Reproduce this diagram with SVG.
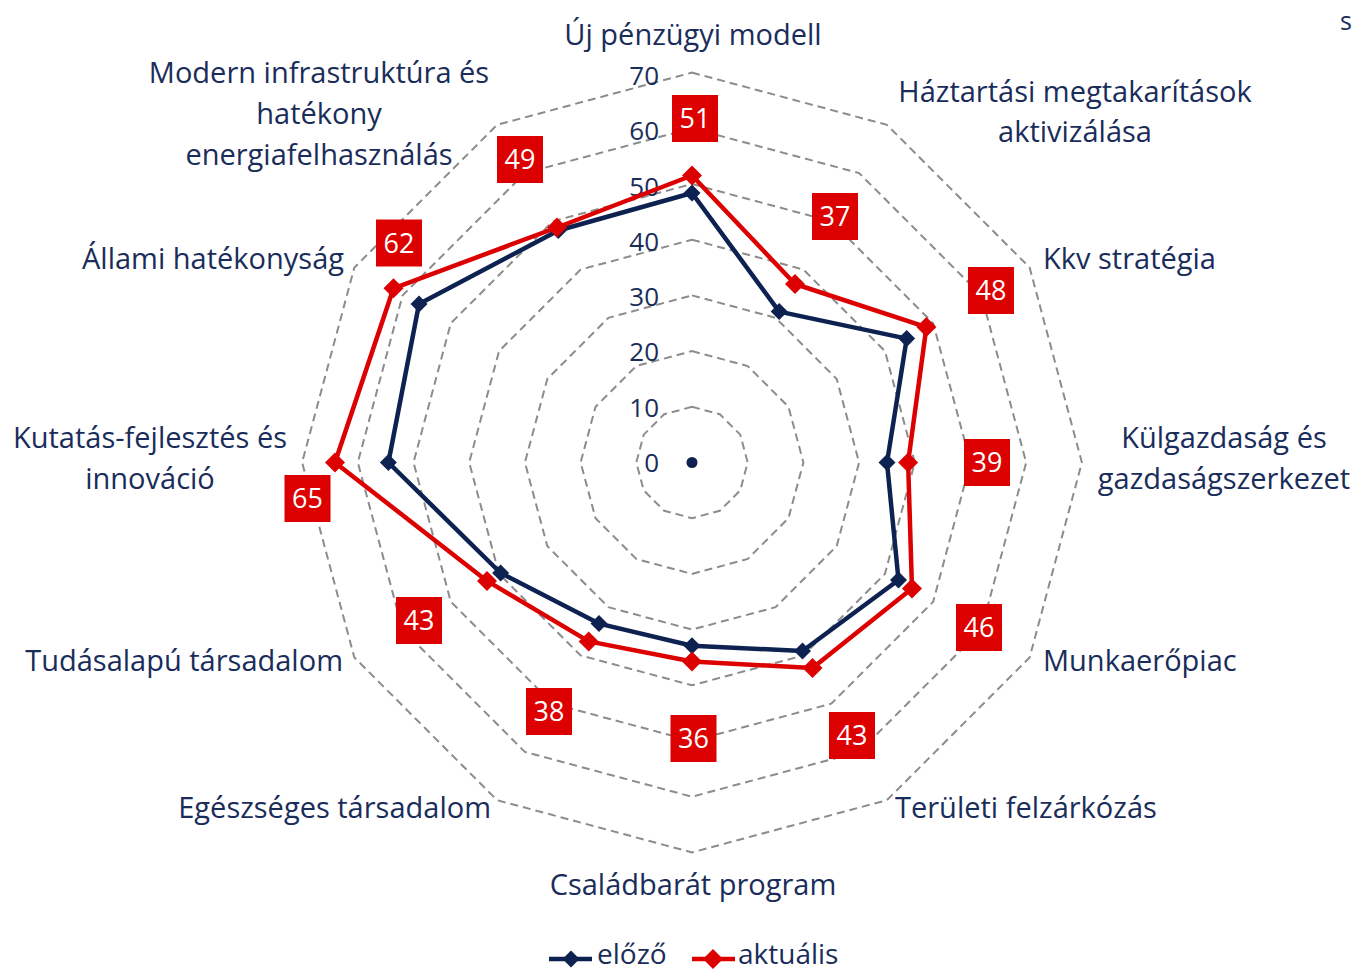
<svg xmlns="http://www.w3.org/2000/svg" width="1354" height="970" viewBox="0 0 1354 970">
<defs>
<style>
.ring{fill:none;stroke:#8c8c8c;stroke-width:2;stroke-dasharray:8 5}
.lbl{font-family:"Open Sans","Noto Sans","DejaVu Sans",sans-serif;font-size:29px;fill:#1a2d5a}
.tick{font-family:"Open Sans","Noto Sans","DejaVu Sans",sans-serif;font-size:26px;fill:#1a2d5a;text-anchor:end}
.dl rect{fill:#dd0000}
.dl text{font-family:"Open Sans","Noto Sans","DejaVu Sans",sans-serif;font-size:27px;fill:#ffffff;text-anchor:middle}
.prev{fill:none;stroke:#0d2250;stroke-width:4.5;stroke-linejoin:round}
.cur{fill:none;stroke:#dd0000;stroke-width:4.5;stroke-linejoin:round}
.mprev{fill:#0d2250}
.mcur{fill:#dd0000}
.leg{font-family:"Open Sans","Noto Sans","DejaVu Sans",sans-serif;font-size:28px;fill:#1a2d5a}
</style>
<path id="dprev" d="M0,-8.5 L8.5,0 L0,8.5 L-8.5,0 Z"/>
<path id="dcur" d="M0,-10 L10,0 L0,10 L-10,0 Z"/>
</defs>
<rect width="1354" height="970" fill="#ffffff"/>
<g id="grid">
<polygon class="ring" points="692,406.8 719.85,414.26 740.24,434.65 747.7,462.5 740.24,490.35 719.85,510.74 692,518.2 664.15,510.74 643.76,490.35 636.3,462.5 643.76,434.65 664.15,414.26"/>
<polygon class="ring" points="692,351.1 747.7,366.03 788.47,406.8 803.4,462.5 788.47,518.2 747.7,558.97 692,573.9 636.3,558.97 595.53,518.2 580.6,462.5 595.53,406.8 636.3,366.03"/>
<polygon class="ring" points="692,295.4 775.55,317.79 836.71,378.95 859.1,462.5 836.71,546.05 775.55,607.21 692,629.6 608.45,607.21 547.29,546.05 524.9,462.5 547.29,378.95 608.45,317.79"/>
<polygon class="ring" points="692,239.7 803.4,269.56 884.94,351.1 914.8,462.5 884.94,573.9 803.4,655.44 692,685.3 580.6,655.44 499.06,573.9 469.2,462.5 499.06,351.1 580.6,269.56"/>
<polygon class="ring" points="692,184 831.25,221.32 933.18,323.25 970.5,462.5 933.18,601.75 831.25,703.68 692,741 552.75,703.68 450.82,601.75 413.5,462.5 450.82,323.25 552.75,221.32"/>
<polygon class="ring" points="692,128.3 859.1,173.08 981.42,295.4 1026.2,462.5 981.42,629.6 859.1,751.92 692,796.7 524.9,751.92 402.58,629.6 357.8,462.5 402.58,295.4 524.9,173.08"/>
<polygon class="ring" points="692,72.6 886.95,124.85 1029.65,267.55 1081.9,462.5 1029.65,657.45 886.95,800.15 692,852.4 497.05,800.15 354.35,657.45 302.1,462.5 354.35,267.55 497.05,124.85"/>
<circle cx="692" cy="462.5" r="5.5" fill="#0d2250"/>
</g>
<g id="ticks">
<text class="tick" x="659" y="472">0</text>
<text class="tick" x="659" y="416.7">10</text>
<text class="tick" x="659" y="361.4">20</text>
<text class="tick" x="659" y="306.1">30</text>
<text class="tick" x="659" y="250.8">40</text>
<text class="tick" x="659" y="195.5">50</text>
<text class="tick" x="659" y="140.2">60</text>
<text class="tick" x="659" y="84.9">70</text>
</g>
<g id="connectors">
<polygon id="series-elozo" class="prev" points="692,193 779.2,311.6 906.7,338.6 887,462.5 898.5,580 802.5,651 692,645.8 599,623.6 500.6,573 388.4,462.5 419,304 558.3,230.5"/>
<polygon id="series-aktualis" class="cur" points="692,175.5 795,284 926.4,327.1 908.1,462.5 912,588.5 812.5,668 692,661.5 588.7,641.4 487,580.9 335,462.5 393.5,288.3 557,227.5"/>
</g>
<g id="markers-elozo">
<use href="#dprev" class="mprev" x="692" y="193"/>
<use href="#dprev" class="mprev" x="779.2" y="311.6"/>
<use href="#dprev" class="mprev" x="906.7" y="338.6"/>
<use href="#dprev" class="mprev" x="887" y="462.5"/>
<use href="#dprev" class="mprev" x="898.5" y="580"/>
<use href="#dprev" class="mprev" x="802.5" y="651"/>
<use href="#dprev" class="mprev" x="692" y="645.8"/>
<use href="#dprev" class="mprev" x="599" y="623.6"/>
<use href="#dprev" class="mprev" x="500.6" y="573"/>
<use href="#dprev" class="mprev" x="388.4" y="462.5"/>
<use href="#dprev" class="mprev" x="419" y="304"/>
<use href="#dprev" class="mprev" x="558.3" y="230.5"/>
</g>
<g id="markers-aktualis">
<use href="#dcur" class="mcur" x="692" y="175.5"/>
<use href="#dcur" class="mcur" x="795" y="284"/>
<use href="#dcur" class="mcur" x="926.4" y="327.1"/>
<use href="#dcur" class="mcur" x="908.1" y="462.5"/>
<use href="#dcur" class="mcur" x="912" y="588.5"/>
<use href="#dcur" class="mcur" x="812.5" y="668"/>
<use href="#dcur" class="mcur" x="692" y="661.5"/>
<use href="#dcur" class="mcur" x="588.7" y="641.4"/>
<use href="#dcur" class="mcur" x="487" y="580.9"/>
<use href="#dcur" class="mcur" x="335" y="462.5"/>
<use href="#dcur" class="mcur" x="393.5" y="288.3"/>
<use href="#dcur" class="mcur" x="557" y="227.5"/>
</g>
<g id="data-labels" class="dl">
<g id="dl-0"><rect x="672" y="95" width="46" height="47"/><text x="695" y="128">51</text></g>
<g id="dl-1"><rect x="812" y="193" width="46" height="47"/><text x="835" y="226">37</text></g>
<g id="dl-2"><rect x="968" y="267" width="46" height="47"/><text x="991" y="300">48</text></g>
<g id="dl-3"><rect x="964" y="439" width="46" height="47"/><text x="987" y="472">39</text></g>
<g id="dl-4"><rect x="956" y="604" width="46" height="47"/><text x="979" y="637">46</text></g>
<g id="dl-5"><rect x="829" y="712" width="46" height="47"/><text x="852" y="745">43</text></g>
<g id="dl-6"><rect x="670.5" y="715" width="46" height="47"/><text x="693.5" y="748">36</text></g>
<g id="dl-7"><rect x="526" y="688" width="46" height="47"/><text x="549" y="721">38</text></g>
<g id="dl-8"><rect x="396" y="597" width="46" height="47"/><text x="419" y="630">43</text></g>
<g id="dl-9"><rect x="284.5" y="475" width="46" height="47"/><text x="307.5" y="508">65</text></g>
<g id="dl-10"><rect x="376" y="219.5" width="46" height="47"/><text x="399" y="252.5">62</text></g>
<g id="dl-11"><rect x="497" y="136" width="46" height="47"/><text x="520" y="169">49</text></g>
</g>
<g id="axis-labels" class="lbl">
<g id="ax-0"><text x="693" y="45" text-anchor="middle">Új pénzügyi modell</text></g>
<g id="ax-1"><text x="1075" y="101.5" text-anchor="middle">Háztartási megtakarítások</text><text x="1075" y="142" text-anchor="middle">aktivizálása</text></g>
<g id="ax-2"><text x="1043" y="269">Kkv stratégia</text></g>
<g id="ax-3"><text x="1224" y="448" text-anchor="middle">Külgazdaság és</text><text x="1224" y="489" text-anchor="middle">gazdaságszerkezet</text></g>
<g id="ax-4"><text x="1043" y="671">Munkaerőpiac</text></g>
<g id="ax-5"><text x="895" y="818">Területi felzárkózás</text></g>
<g id="ax-6"><text x="693" y="895" text-anchor="middle">Családbarát program</text></g>
<g id="ax-7"><text x="491" y="818" text-anchor="end">Egészséges társadalom</text></g>
<g id="ax-8"><text x="343" y="671" text-anchor="end">Tudásalapú társadalom</text></g>
<g id="ax-9"><text x="150" y="448" text-anchor="middle">Kutatás-fejlesztés és</text><text x="150" y="489" text-anchor="middle">innováció</text></g>
<g id="ax-10"><text x="344" y="269" text-anchor="end">Állami hatékonyság</text></g>
<g id="ax-11"><text x="319" y="82.5" text-anchor="middle">Modern infrastruktúra és</text><text x="319" y="123.5" text-anchor="middle">hatékony</text><text x="319" y="164.5" text-anchor="middle">energiafelhasználás</text></g>
</g>
<g id="corner-s"><text class="lbl" x="1340" y="30" style="font-size:25px">s</text></g>
<g id="legend">
<line x1="549" y1="959" x2="592" y2="959" stroke="#0d2250" stroke-width="4.5"/>
<use href="#dprev" class="mprev" x="571" y="959"/>
<text class="leg" x="597" y="964">előző</text>
<line x1="692" y1="959" x2="735" y2="959" stroke="#dd0000" stroke-width="4.5"/>
<use href="#dcur" class="mcur" x="713" y="959"/>
<text class="leg" x="738" y="964">aktuális</text>
</g>
</svg>
